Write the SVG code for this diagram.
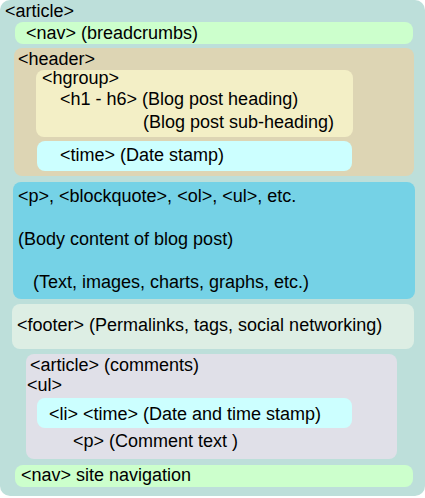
<svg xmlns="http://www.w3.org/2000/svg" width="425" height="498" viewBox="0 0 425 498">
<style>
text{font-family:"Liberation Sans",Arial,sans-serif;font-size:18px;fill:#000}
</style>
<rect width="425" height="498" fill="#fff"/>
<g id="article">
<rect x="0" y="0" width="425" height="496" rx="10" fill="#BDDFDA"/>
<text x="5" y="17">&lt;article&gt;</text>
</g>
<g id="nav-breadcrumbs">
<rect x="15" y="22" width="398" height="22" rx="8" fill="#CCFFCC"/>
<text x="26" y="39">&lt;nav&gt; (breadcrumbs)</text>
</g>
<g id="header">
<rect x="14" y="48" width="400" height="128" rx="8" fill="#DDD5B4"/>
<text x="18" y="65">&lt;header&gt;</text>
</g>
<g id="hgroup">
<rect x="36" y="70" width="317" height="67" rx="8" fill="#F3EFC6"/>
<text x="42" y="84">&lt;hgroup&gt;</text>
<text x="60" y="105">&lt;h1 - h6&gt; (Blog post heading)</text>
<text x="143" y="128">(Blog post sub-heading)</text>
</g>
<g id="time">
<rect x="37" y="141" width="315" height="30" rx="8" fill="#CCFFFF"/>
<text x="60" y="161">&lt;time&gt; (Date stamp)</text>
</g>
<g id="body">
<rect x="13" y="182" width="402" height="117" rx="8" fill="#75D2E6"/>
<text x="18" y="202">&lt;p&gt;, &lt;blockquote&gt;, &lt;ol&gt;, &lt;ul&gt;, etc.</text>
<text x="18" y="245">(Body content of blog post)</text>
<text x="33" y="288">(Text, images, charts, graphs, etc.)</text>
</g>
<g id="footer">
<rect x="12" y="304" width="402" height="45" rx="8" fill="#DDEEE4"/>
<text x="17" y="331">&lt;footer&gt; (Permalinks, tags, social networking)</text>
</g>
<g id="comments">
<rect x="26" y="354" width="371" height="105" rx="8" fill="#E0E0E8"/>
<text x="30" y="371">&lt;article&gt; (comments)</text>
<text x="27" y="391">&lt;ul&gt;</text>
</g>
<g id="li">
<rect x="37" y="398" width="315" height="30" rx="8" fill="#CCFFFF"/>
<text x="49" y="420">&lt;li&gt; &lt;time&gt; (Date and time stamp)</text>
<text x="73" y="447">&lt;p&gt; (Comment text )</text>
</g>
<g id="nav-site">
<rect x="15" y="465" width="398" height="22" rx="8" fill="#CCFFCC"/>
<text x="21" y="481">&lt;nav&gt; site navigation</text>
</g>
<g id="connectors"/>
</svg>
